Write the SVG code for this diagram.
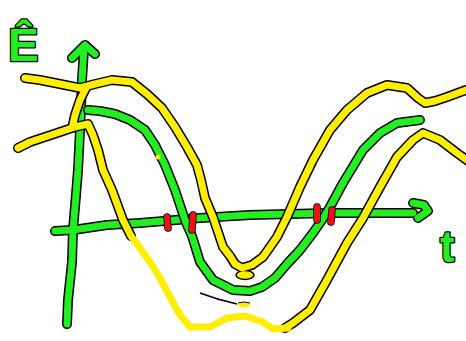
<svg xmlns="http://www.w3.org/2000/svg" xmlns:xlink="http://www.w3.org/1999/xlink" width="466" height="341" viewBox="0 0 466 341">
<style>
.ol{fill:none;stroke:#000;stroke-width:10;stroke-linecap:round;stroke-linejoin:round}
.gr{fill:none;stroke:#22ee22;stroke-width:7;stroke-linecap:round;stroke-linejoin:round}
.ye{fill:none;stroke:#ffee00;stroke-width:7;stroke-linecap:round;stroke-linejoin:round}
.rd{fill:none;stroke:#ee1111;stroke-width:6;stroke-linecap:round}
.rdo{fill:none;stroke:#000;stroke-width:7.5;stroke-linecap:round}
.lbl{font-family:"Liberation Sans",Arial,sans-serif;font-weight:bold;fill:#22ee22;stroke:#000;stroke-width:2.5;paint-order:stroke;stroke-linejoin:round}
</style>
<defs>
<path id="vax" d="M67,324 L68,300 L72,262 L73,230 L76,195 L78,170 L80,130 L82,80 L84,48"/>
<path id="vah" d="M72,58 L85,45 L95,54"/>
<path id="hax" d="M55,231 L73,230 L107,225 L140,223 L200,218 L250,215 L330,213 L413,213"/>
<path id="hah" d="M413,203 L424,205 L428,211 L418,218"/>
<path id="gc" d="M88,110 L100,111 L115,114 L130,120 L145,130 L155,145 L165,165 L175,190 L185,220 L192,236 L200,262 L213,280 L233,290 L250,291 L262,287 L275,278 L287,264 L300,250 L313,233 L322,220 L330,207 L343,183 L363,150 L380,133 L397,123 L420,120"/>
<path id="yA" d="M25,78 L40,80 L60,84 L80,88 L95,84 L112,80 L132,82 L147,94 L162,108 L175,127 L187,147 L197,165 L201,180 L205,198 L213,217 L219,235 L223,247 L230,256 L235,264 L242,268 L252,265 L263,257 L277,237 L287,217 L300,187 L313,160 L330,130 L347,110 L367,93 L387,85 L407,88 L418,98 L425,103 L435,101 L447,97 L466,90"/>
<path id="yD" d="M86,88 L80,100 L75,115 L73,124"/>
<path id="yB" d="M18,148 L30,142 L45,137 L60,132 L75,127 L88,124 L93,135 L98,150 L103,170 L112,190 L123,220 L131,236"/>
<path id="yC" d="M285,328 L293,323 L310,310 L327,280 L347,243 L363,218 L380,187 L397,157 L413,140 L423,133 L440,140 L457,153 L468,161"/>
</defs>
<g id="axes">
<use xlink:href="#vax" class="ol"/><use xlink:href="#vah" class="ol"/>
<use xlink:href="#hax" class="ol"/><use xlink:href="#hah" class="ol"/>
<use xlink:href="#vax" class="gr"/><use xlink:href="#vah" class="gr"/>
<use xlink:href="#hax" class="gr"/><use xlink:href="#hah" class="gr"/>
</g>
<g id="green-curve">
<use xlink:href="#gc" class="ol"/>
<use xlink:href="#gc" class="gr"/>
<circle cx="158" cy="157" r="2.5" fill="#ffee00"/>
</g>
<g id="yellow-curves">
<use xlink:href="#yA" class="ol"/><use xlink:href="#yD" class="ol"/><use xlink:href="#yB" class="ol"/><use xlink:href="#yC" class="ol"/>
<ellipse cx="245" cy="275" rx="9" ry="4.5" fill="#ffee00" stroke="#000" stroke-width="1.5"/>
<use xlink:href="#yA" class="ye"/><use xlink:href="#yD" class="ye"/><use xlink:href="#yB" class="ye"/><use xlink:href="#yC" class="ye"/>
<path class="ye" d="M131,236 L140,248 L150,262 L160,278 L170,297 L180,315 L190,327 L210,327 L227,318 L245,316 L263,322 L273,329 L288,328"/>
<path d="M200,293 Q218,300 237,304" fill="none" stroke="#000" stroke-width="1.5"/>
<ellipse cx="244" cy="305" rx="6" ry="2.5" fill="#ffee00"/>
<path d="M238,303 Q244,301 250,303" fill="none" stroke="#000" stroke-width="1"/>
</g>
<g id="marks">
<path class="rdo" d="M167,217 L168,228 M193,215 L192,230 M317,207 L317,220 M332,210 L331,222"/>
<path class="rd" d="M167,217 L168,228 M193,215 L192,230 M317,207 L317,220 M332,210 L331,222"/>
</g>
<g id="labels">
<text class="lbl" x="8" y="61" font-size="46">Ê</text>
<text class="lbl" x="440" y="262" font-size="44">t</text>
</g>
</svg>
